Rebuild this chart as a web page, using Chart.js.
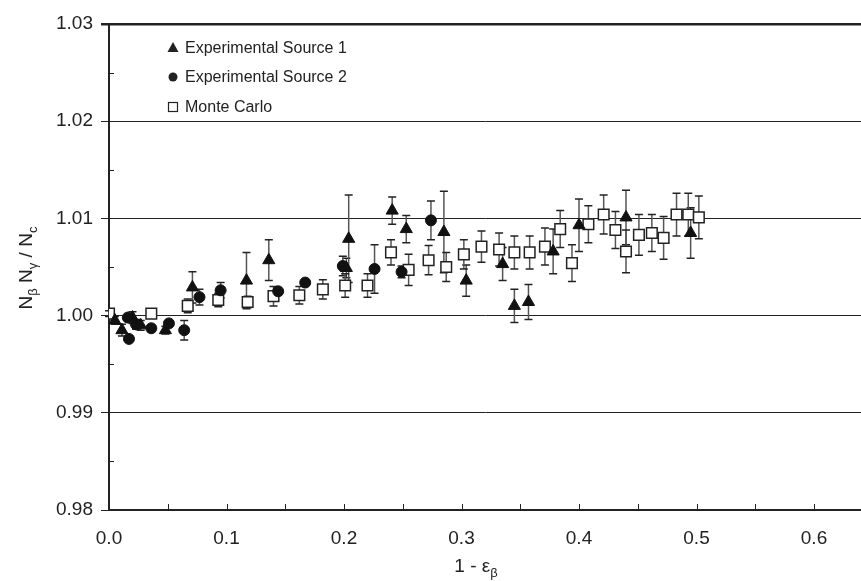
<!DOCTYPE html>
<html>
<head>
<meta charset="utf-8">
<script src="https://cdn.jsdelivr.net/npm/chart.js@4.4.1/dist/chart.umd.min.js"></script>
<style>
  html, body { margin: 0; padding: 0; background: #fff; }
  #wrap { width: 861px; height: 581px; }
</style>
</head>
<body>
<div id="wrap"><canvas id="myChart" width="861" height="581"></canvas></div>
<script>
// Experimental Source 1 (triangles)
const s1X   = [0.005, 0.011, 0.020, 0.027, 0.048, 0.071, 0.117, 0.136, 0.202, 0.204, 0.241, 0.253, 0.285, 0.304, 0.335, 0.345, 0.357, 0.378, 0.400, 0.440, 0.495];
const s1Y   = [0.9995, 0.9985, 0.9998, 0.9990, 0.9985, 1.0029, 1.0036, 1.0057, 1.0049, 1.0079, 1.0108, 1.0089, 1.0086, 1.0036, 1.0053, 1.0010, 1.0014, 1.0066, 1.0093, 1.0101, 1.0085];
const s1Err = [0.0004, 0.0006, 0.0006, 0.0005, 0.0004, 0.0016, 0.0029, 0.0021, 0.0010, 0.0045, 0.0014, 0.0014, 0.0042, 0.0016, 0.0017, 0.0017, 0.0018, 0.0023, 0.0027, 0.0028, 0.0026];

// Experimental Source 2 (circles)
const s2X   = [0.016, 0.017, 0.023, 0.036, 0.051, 0.064, 0.077, 0.095, 0.144, 0.167, 0.199, 0.226, 0.249, 0.274];
const s2Y   = [0.9998, 0.9976, 0.9991, 0.9987, 0.9992, 0.9985, 1.0019, 1.0026, 1.0025, 1.0034, 1.0051, 1.0048, 1.0045, 1.0098];
const s2Err = [0.0003, 0.0003, 0.0005, 0.0003, 0.0003, 0.0010, 0.0008, 0.0008, 0.0003, 0.0002, 0.0010, 0.0025, 0.0006, 0.0020];

// Monte Carlo (open squares)
const mcX   = [0.000, 0.036, 0.067, 0.093, 0.118, 0.140, 0.162, 0.182, 0.201, 0.220, 0.240, 0.255, 0.272, 0.287, 0.302, 0.317, 0.332, 0.345, 0.358, 0.371, 0.384, 0.394, 0.408, 0.421, 0.431, 0.440, 0.451, 0.462, 0.472, 0.483, 0.493, 0.502];
const mcY   = [1.0002, 1.0002, 1.0010, 1.0016, 1.0014, 1.0020, 1.0021, 1.0027, 1.0031, 1.0031, 1.0065, 1.0047, 1.0057, 1.0050, 1.0063, 1.0071, 1.0068, 1.0065, 1.0065, 1.0071, 1.0089, 1.0054, 1.0094, 1.0104, 1.0088, 1.0066, 1.0083, 1.0085, 1.0080, 1.0104, 1.0104, 1.0101];
const mcErr = [0.0003, 0.0003, 0.0007, 0.0007, 0.0006, 0.0010, 0.0009, 0.0010, 0.0012, 0.0012, 0.0013, 0.0016, 0.0015, 0.0015, 0.0015, 0.0016, 0.0017, 0.0017, 0.0017, 0.0019, 0.0019, 0.0019, 0.0019, 0.0020, 0.0019, 0.0022, 0.0021, 0.0019, 0.0022, 0.0022, 0.0022, 0.0022];

const xTicks = [0, 0.1, 0.2, 0.3, 0.4, 0.5, 0.6];
const yTicks = [0.98, 0.99, 1.00, 1.01, 1.02, 1.03];

const seriesLabels = ['Experimental Source 1', 'Experimental Source 2', 'Monte Carlo'];
const xTitle = ['1 - ε', 'β'];
const yTitle = [['N', 'β'], [' N', 'γ'], [' / N', 'c']];

const FONT = "'Liberation Sans', Arial, sans-serif";

function pts(xs, ys) {
    return xs.map((x, i) => ({ x: x, y: ys[i] }));
}

// vertical error bars, drawn under the markers
const errorBars = {
    id: 'errorBars',
    beforeDatasetsDraw(chart) {
        const ctx = chart.ctx;
        const xs = chart.scales.x, ys = chart.scales.y;
        chart.data.datasets.forEach(ds => {
            ds.data.forEach((p, i) => {
                const e = ds.errors[i];
                const px = xs.getPixelForValue(p.x);
                const top = ys.getPixelForValue(p.y + e);
                const bot = ys.getPixelForValue(p.y - e);
                ctx.save();
                ctx.strokeStyle = '#555';
                ctx.lineWidth = 1.5;
                ctx.beginPath();
                ctx.moveTo(px, top); ctx.lineTo(px, bot);
                ctx.stroke();
                ctx.strokeStyle = '#222';
                ctx.beginPath();
                ctx.moveTo(px - 4, top); ctx.lineTo(px + 4, top);
                ctx.moveTo(px - 4, bot); ctx.lineTo(px + 4, bot);
                ctx.stroke();
                ctx.restore();
            });
        });
    }
};

// inner ticks, legend and axis titles with subscripts
const decorations = {
    id: 'decorations',
    afterDraw(chart) {
        const ctx = chart.ctx;
        const xs = chart.scales.x, ys = chart.scales.y;
        const area = chart.chartArea;
        ctx.save();
        ctx.strokeStyle = '#222';
        ctx.lineWidth = 1;
        ctx.beginPath();
        for (let k = 1; k <= 12; k++) {
            const px = Math.round(xs.getPixelForValue(k * 0.05)) + 0.5;
            ctx.moveTo(px, area.bottom); ctx.lineTo(px, area.bottom - 6);
        }
        for (let k = 0; k < 5; k++) {
            const py = Math.round(ys.getPixelForValue(0.985 + k * 0.01)) + 0.5;
            ctx.moveTo(area.left, py); ctx.lineTo(area.left + 5, py);
        }
        ctx.stroke();

        // legend
        ctx.fillStyle = '#222';
        ctx.font = '16px ' + FONT;
        ctx.textBaseline = 'middle';
        const lx = 173, ly = [48, 77, 107];
        ctx.beginPath();
        ctx.moveTo(lx, ly[0] - 6); ctx.lineTo(lx + 5.5, ly[0] + 4); ctx.lineTo(lx - 5.5, ly[0] + 4);
        ctx.closePath(); ctx.fill();
        ctx.beginPath();
        ctx.arc(lx, ly[1], 4.5, 0, Math.PI * 2); ctx.fill();
        ctx.lineWidth = 1.2;
        ctx.strokeRect(lx - 4.5, ly[2] - 4.5, 9, 9);
        seriesLabels.forEach((t, i) => ctx.fillText(t, 185, ly[i] + 1));

        // x title
        ctx.font = '19px ' + FONT;
        ctx.textBaseline = 'alphabetic';
        const w1 = ctx.measureText(xTitle[0]).width;
        ctx.font = '13px ' + FONT;
        const w2 = ctx.measureText(xTitle[1]).width;
        let tx = 476 - (w1 + w2) / 2;
        ctx.font = '19px ' + FONT;
        ctx.fillText(xTitle[0], tx, 572);
        ctx.font = '13px ' + FONT;
        ctx.fillText(xTitle[1], tx + w1, 577);

        // y title, rotated
        ctx.translate(32, 268);
        ctx.rotate(-Math.PI / 2);
        let total = 0;
        yTitle.forEach(p => {
            ctx.font = '19px ' + FONT; total += ctx.measureText(p[0]).width;
            ctx.font = '13px ' + FONT; total += ctx.measureText(p[1]).width;
        });
        let cx = -total / 2;
        yTitle.forEach(p => {
            ctx.font = '19px ' + FONT;
            ctx.fillText(p[0], cx, 0); cx += ctx.measureText(p[0]).width;
            ctx.font = '13px ' + FONT;
            ctx.fillText(p[1], cx, 5); cx += ctx.measureText(p[1]).width;
        });
        ctx.restore();
    }
};

const ctx = document.getElementById('myChart').getContext('2d');
const myChart = new Chart(ctx, {
    type: 'scatter',
    data: {
        datasets: [{
            label: seriesLabels[0],
            data: pts(s1X, s1Y),
            errors: s1Err,
            pointStyle: 'triangle',
            pointRadius: 7,
            backgroundColor: '#111',
            borderColor: '#111',
            borderWidth: 1
        }, {
            label: seriesLabels[1],
            data: pts(s2X, s2Y),
            errors: s2Err,
            pointStyle: 'circle',
            pointRadius: 5.5,
            backgroundColor: '#111',
            borderColor: '#111',
            borderWidth: 1
        }, {
            label: seriesLabels[2],
            data: pts(mcX, mcY),
            errors: mcErr,
            pointStyle: 'rect',
            pointRadius: 7.5,
            backgroundColor: '#fff',
            borderColor: '#222',
            borderWidth: 1.5
        }]
    },
    options: {
        responsive: false,
        animation: false,
        layout: { autoPadding: false, padding: { top: 24, right: 0, left: 0, bottom: 0 } },
        plugins: {
            legend: { display: false },
            tooltip: { enabled: false }
        },
        scales: {
            x: {
                type: 'linear',
                min: 0,
                max: 0.64,
                grid: { display: false },
                border: { display: true, color: '#222', width: 2 },
                afterBuildTicks: s => { s.ticks = xTicks.map(v => ({ value: v })); },
                ticks: {
                    autoSkip: false,
                    padding: 9,
                    color: '#222',
                    font: { family: FONT, size: 19 },
                    maxRotation: 0,
                    callback: v => v.toFixed(1)
                },
                afterFit: s => { s.height = 71; }
            },
            y: {
                min: 0.98,
                max: 1.03,
                grid: {
                    color: '#222',
                    lineWidth: c => (c.tick && Math.abs(c.tick.value - 1.03) < 1e-6) ? 2.5 : 1,
                    tickLength: 8
                },
                border: { display: true, color: '#222', width: 2 },
                afterBuildTicks: s => { s.ticks = yTicks.map(v => ({ value: v })); },
                ticks: {
                    padding: 8,
                    color: '#222',
                    font: { family: FONT, size: 19 },
                    callback: v => v.toFixed(2)
                },
                afterFit: s => { s.width = 109; }
            }
        }
    },
    plugins: [errorBars, decorations]
});
</script>
</body>
</html>
